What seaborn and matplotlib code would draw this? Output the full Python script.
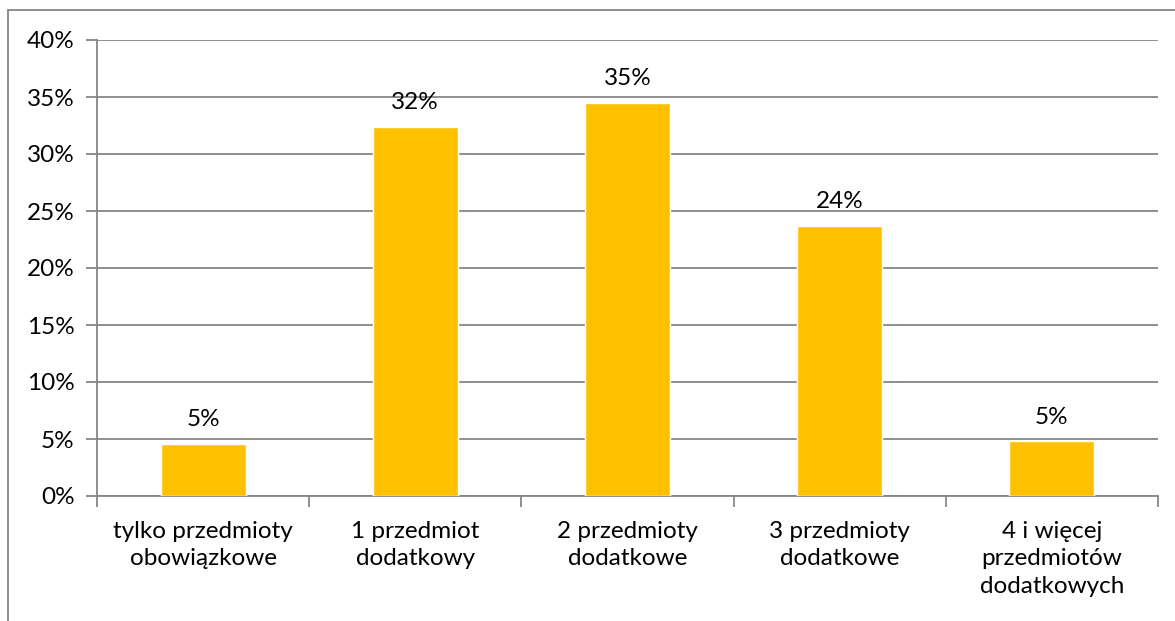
import matplotlib
matplotlib.use("Agg")
import matplotlib.pyplot as plt
import seaborn as sns
import pandas as pd
from matplotlib.patches import Rectangle
from matplotlib.ticker import FixedLocator

categories = ["tylko przedmioty\nobowiązkowe", "1 przedmiot\ndodatkowy", "2 przedmioty\ndodatkowe",
              "3 przedmioty\ndodatkowe", "4 i więcej\nprzedmiotów\ndodatkowych"]
values = [4.6, 32.4, 34.5, 23.7, 4.8]
yticks = [0, 5, 10, 15, 20, 25, 30, 35, 40]

sns.set_theme(style="white")
plt.rcParams['font.family'] = ['Lato', 'DejaVu Sans']

FS = 17.5
df = pd.DataFrame({"cat": categories, "val": values})
fig = plt.figure(figsize=(11.75, 6.21), dpi=100)
ax = fig.add_axes([97/1175, 1-496/621, (1158-97)/1175, (496-40)/621])

sns.barplot(data=df, x="cat", y="val", color="#FFC000", width=0.4, saturation=1, ax=ax, zorder=3)

grid_c = "#868686"
ax.set_ylim(0, 40)
ax.set_xlim(-0.5, 4.5)
ax.set_yticks(yticks)
ax.set_yticklabels([f"{t}%" for t in yticks], fontsize=FS, color="black")
ax.yaxis.grid(True, color=grid_c, linewidth=1.3, zorder=0)
ax.set_axisbelow(True)
ax.tick_params(axis="y", length=8, width=1.3, color=grid_c, pad=8, left=True)
ax.tick_params(axis="x", which="major", length=0, pad=18, labelsize=FS, labelcolor="black")
ax.xaxis.set_minor_locator(FixedLocator([-0.5, 0.5, 1.5, 2.5, 3.5, 4.5]))
ax.tick_params(axis="x", which="minor", length=8, width=1.3, color=grid_c, bottom=True)
for lbl in ax.get_xticklabels():
    lbl.set_linespacing(1.38)
ax.set_xlabel("")
ax.set_ylabel("")
for s in ["top", "right"]:
    ax.spines[s].set_visible(False)
for s in ["left", "bottom"]:
    ax.spines[s].set_color(grid_c)
    ax.spines[s].set_linewidth(1.3)

for i, v in enumerate(values):
    ax.text(i, v + 2.1, f"{int(v + 0.5)}%", ha="center", va="center", fontsize=FS, color="black")

fig.patches.append(Rectangle((8/1175, -0.1), 1.2, 1 - 10/621 + 0.1, transform=fig.transFigure,
                             fill=False, edgecolor="#868686", linewidth=1.3))

fig.savefig("out.png", dpi=100)
